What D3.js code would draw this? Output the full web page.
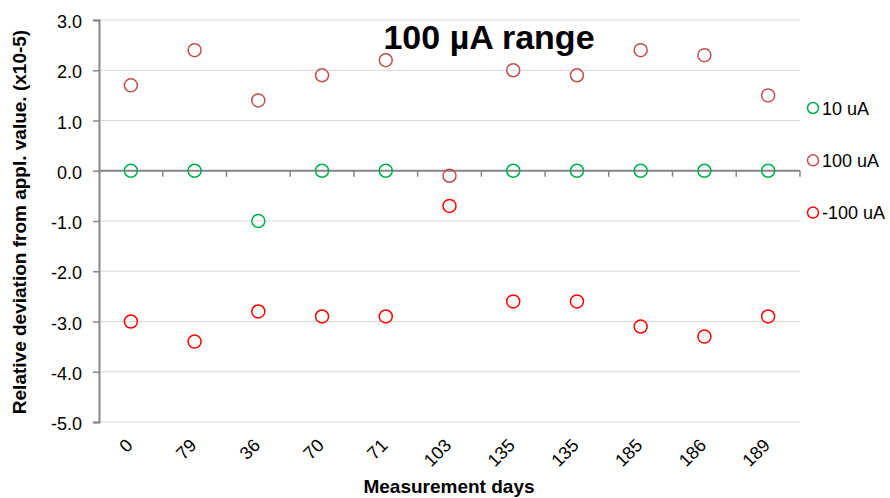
<!DOCTYPE html>
<html><head><meta charset="utf-8">
<script src="https://cdn.jsdelivr.net/npm/d3@7"></script>
<style>body{margin:0;background:#fff}svg{display:block;font-family:Arial,"Liberation Sans",sans-serif}</style>
</head><body>
<svg id="c" width="890" height="498"></svg>
<script>
const categories = ["0","79","36","70","71","103","135","135","185","186","189"];
const s10 = [0,0,-1,0,0,null,0,0,0,0,0];
const s100 = [1.7,2.4,1.4,1.9,2.2,-0.1,2.0,1.9,2.4,2.3,1.5];
const sm100 = [-3.0,-3.4,-2.8,-2.9,-2.9,-0.7,-2.6,-2.6,-3.1,-3.3,-2.9];
const seriesNames = ["10 uA","100 uA","-100 uA"];
const seriesColors = ["#00b050","#c0504d","#ff0000"];
const yTicks = [3,2,1,0,-1,-2,-3,-4,-5];
const title = "100 \u00b5A range";

const svg = d3.select("#c");
const L=99, R=800, T=20, B=422;
const x = d3.scaleBand().domain(d3.range(categories.length)).range([L,R]);
const y = d3.scaleLinear().domain([-5,3]).range([B,T]);

// gridlines
svg.append("g").selectAll("line").data(yTicks).join("line")
  .attr("x1",L).attr("x2",R).attr("y1",d=>y(d)).attr("y2",d=>y(d))
  .attr("stroke","#d9d9d9").attr("stroke-width",1);

// y axis
const ya = svg.append("g").attr("transform",`translate(${L},0)`)
  .call(d3.axisLeft(y).tickValues(yTicks).tickFormat(d=>d3.format(".1f")(d).replace("\u2212","-")).tickSize(6).tickPadding(11));
ya.select(".domain").attr("stroke","#868686").attr("stroke-width",2);
ya.selectAll(".tick line").attr("stroke","#868686").attr("stroke-width",1.5);
ya.selectAll("text").attr("font-size",18).attr("fill","#000").attr("dy","0.42em")
  .attr("font-family","Arial, Liberation Sans, sans-serif");

// x axis at 0
const xa = svg.append("g").attr("transform",`translate(0,${y(0)})`);
xa.append("line").attr("x1",L).attr("x2",R).attr("stroke","#868686").attr("stroke-width",2);
xa.selectAll("line.t").data(d3.range(1,categories.length+1)).join("line").attr("class","t")
  .attr("x1",i=>L+i*x.step()).attr("x2",i=>L+i*x.step()).attr("y1",0).attr("y2",6)
  .attr("stroke","#868686").attr("stroke-width",1.5);

// x tick labels
svg.append("g").selectAll("text").data(categories).join("text")
  .attr("transform",(d,i)=>`translate(${x(i)+x.bandwidth()/2-1.5},${442}) rotate(-45)`)
  .attr("text-anchor","end").attr("dy","0.35em").attr("font-size",18).text(d=>d);

// series
const all=[s10,s100,sm100];
all.forEach((s,k)=>{
  svg.append("g").selectAll("circle").data(s.map((v,i)=>({v,i})).filter(d=>d.v!==null)).join("circle")
    .attr("cx",d=>x(d.i)+x.bandwidth()/2).attr("cy",d=>y(d.v)).attr("r",6.5)
    .attr("fill","none").attr("stroke",seriesColors[k]).attr("stroke-width",1.5);
});

// title
svg.append("text").attr("x",489).attr("y",49).attr("text-anchor","middle")
  .attr("font-size",34).attr("font-weight","bold").text(title);

// axis titles
svg.append("text").attr("transform","translate(26,222) rotate(-90)").attr("text-anchor","middle")
  .attr("font-size",19).attr("font-weight","bold").text("Relative deviation from appl. value. (x10-5)");
svg.append("text").attr("x",449).attr("y",493).attr("text-anchor","middle")
  .attr("font-size",19).attr("font-weight","bold").text("Measurement days");

// legend
const lg = svg.append("g");
seriesNames.forEach((n,k)=>{
  const yy = 108 + k*52.3;
  lg.append("circle").attr("cx",813).attr("cy",yy).attr("r",5.5).attr("fill","none")
    .attr("stroke",seriesColors[k]).attr("stroke-width",1.5);
  lg.append("text").attr("x",822).attr("y",yy).attr("dy","0.37em").attr("font-size",18).text(n);
});
</script>
</body></html>
